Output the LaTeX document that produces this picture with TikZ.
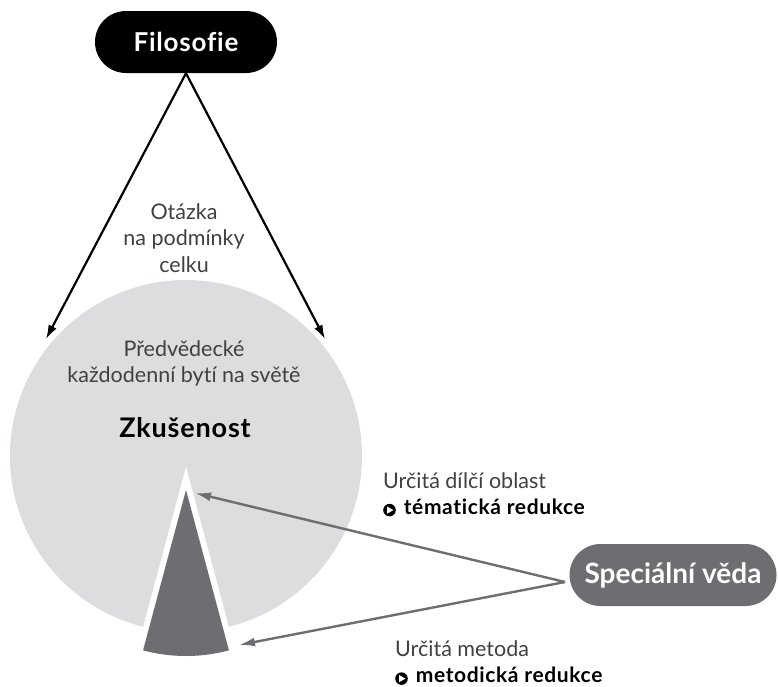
\documentclass[tikz,border=0pt]{standalone}
\usepackage{fontspec}
\setmainfont{Lato}[Ligatures=NoCommon]
\newfontfamily\boldsp{Lato}[LetterSpace=3,Ligatures=NoCommon]
\usetikzlibrary{arrows.meta}
\definecolor{circgray}{HTML}{DCDDDF}
\definecolor{darkgray}{HTML}{6D6E71}
\definecolor{txtgray}{HTML}{404040}
\newcommand{\playbul}{\tikz[baseline=-0.4ex,x=1pt,y=1pt]{\fill[black] (0,0) circle (6.3); \fill[white] (-2.5,-3.6) -- (3.9,0) -- (-2.5,3.6) -- cycle;}\hspace{8pt}}
\newcommand{\sidebf}[1]{{\fontsize{21}{26}\selectfont\boldsp\bfseries\color{black}#1}}
\tikzset{
  blackpill/.style={fill=black, text=white, rounded corners=31pt, minimum width=182pt, minimum height=62pt, inner sep=0pt, font=\fontsize{26}{28}\selectfont\boldsp\bfseries},
  graypill/.style={fill=darkgray, text=white, rounded corners=31pt, minimum width=207pt, minimum height=62pt, inner sep=0pt, font=\fontsize{28}{30}\selectfont\bfseries},
  lighttext/.style={text=txtgray, inner sep=0pt, align=center, font=\fontsize{21.5}{26.5}\selectfont},
  sidetext/.style={text=txtgray, inner sep=0pt, align=left, anchor=west, font=\fontsize{21.5}{26}\selectfont},
  blackarrow/.style={draw=black, line width=2.2pt, -{Latex[length=14pt,width=9pt]}},
  grayarrow/.style={draw=darkgray, line width=2.4pt, -{Latex[length=16pt,width=9pt]}},
  sector/.style={line join=miter}
}
\begin{document}
\begin{tikzpicture}[x=1pt,y=-1pt]
\useasboundingbox (0,0) rectangle (778,686);
% big circle
\fill[circgray] (186,456) circle (176);
% wedge with white gap
\path[draw=white, fill=white, line width=12pt, sector] (186,490) -- ++(75:166) arc[start angle=75, end angle=105, radius=166] -- cycle;
\fill[darkgray] (186,490) -- ++(75:166) arc[start angle=75, end angle=105, radius=166] -- cycle;
% nodes
\node[blackpill] (filo) at (186,42) {Filosofie};
\node[graypill] (spec) at (673,575) {Speciální věda};
\node[lighttext] (otazka) at (184,238) {Otázka\\na podmínky\\celku};
\node[lighttext] (predv) at (184,363.5) {Předvědecké\\každodenní bytí na světě};
\node[text=black, inner sep=0pt, font=\fontsize{27}{30}\selectfont\boldsp\bfseries] (zkus) at (185,428) {Zkušenost};
\node[sidetext] (tema) at (383,494.5) {Určitá dílčí oblast\\\playbul\sidebf{tématická redukce}};
\node[sidetext] (meto) at (395,663) {Určitá metoda\\\playbul\sidebf{metodická redukce}};
% connector ends
\coordinate (lt) at (46,339);
\coordinate (rt) at (325,339);
\coordinate (sv) at (565,582);
\coordinate (wtop) at (195,493);
\coordinate (wbot) at (239,645);
\draw[blackarrow] (filo.south) -- (lt);
\draw[blackarrow] (filo.south) -- (rt);
\draw[grayarrow] (sv) -- (wtop);
\draw[grayarrow] (sv) -- (wbot);
\end{tikzpicture}
\end{document}
